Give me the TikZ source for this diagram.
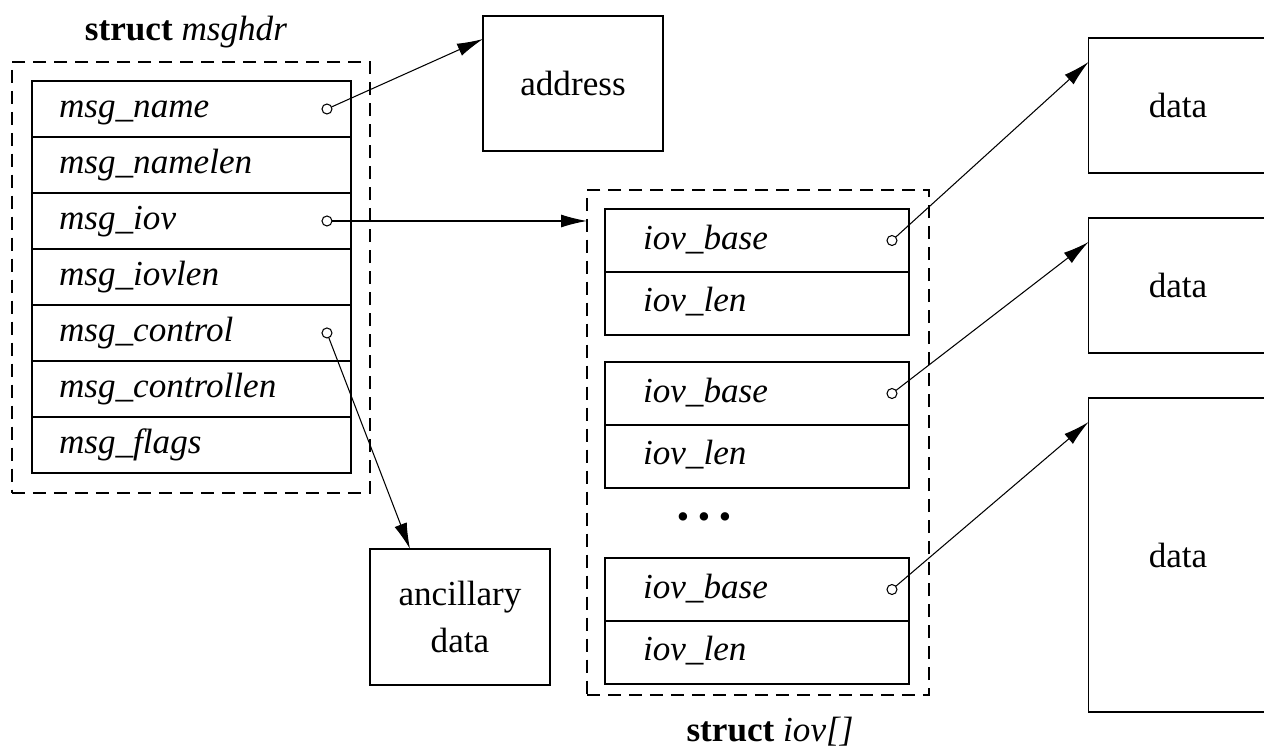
\documentclass[tikz,border=0pt]{standalone}
\usepackage{fontspec}
\setmainfont{Liberation Serif}
\usetikzlibrary{positioning,arrows.meta,calc,fit}

\begin{document}
\begin{tikzpicture}[x=0.02cm,y=-0.02cm,
    every node/.style={font=\fontsize{20}{27}\selectfont,inner sep=0pt,outer sep=0pt},
    hdrfield/.style={draw,line width=0.8pt,minimum width=6.38cm,minimum height=1.12cm,
                     text width=5.3cm,text height=0.48cm,text depth=0.14cm,align=left,
                     font=\fontsize{20}{27}\selectfont\itshape},
    iovfield/.style={draw,line width=0.8pt,minimum width=6.08cm,minimum height=1.26cm,
                     text width=4.56cm,text height=0.48cm,text depth=0.14cm,align=left,
                     font=\fontsize{20}{27}\selectfont\itshape},
    buf/.style={draw,line width=0.8pt,minimum width=3.58cm,align=center},
    group/.style={draw,line width=0.7pt,dash pattern=on 0.26cm off 0.16cm},
    ptr/.style={circle,draw,line width=0.6pt,minimum size=0.2cm},
    link/.style={-{Latex[length=0.52cm,width=0.26cm]},line width=0.6pt}]
    \clip (0,0) rectangle (1264,747);

    \node[group,fit={(12,62) (370,493)}] (hdrgrp) {};
    \node at (186,32) (hdrtitle) {\textbf{struct} \textit{msghdr}};
    \node[hdrfield] (fname) at (191.5,109) {msg\_name};
    \node[hdrfield,below=0pt of fname] (fnamelen) {msg\_namelen};
    \node[hdrfield,below=0pt of fnamelen] (fiov) {msg\_iov};
    \node[hdrfield,below=0pt of fiov] (fiovlen) {msg\_iovlen};
    \node[hdrfield,below=0pt of fiovlen] (fctl) {msg\_control};
    \node[hdrfield,below=0pt of fctl] (fctllen) {msg\_controllen};
    \node[hdrfield,below=0pt of fctllen] (fflags) {msg\_flags};

    \node[ptr] (pname) at ($(fname.east)+(-24,0)$) {};
    \node[ptr] (piov) at ($(fiov.east)+(-24,0)$) {};
    \node[ptr] (pctl) at ($(fctl.east)+(-24,0)$) {};

    \node[buf,minimum width=3.6cm,minimum height=2.7cm] (addr) at (573,83.5) {address};
    \node[buf,minimum width=3.6cm,minimum height=2.72cm] (anc) at (460,617) {ancillary\\data};

    \node[group,fit={(587,190) (929,695)}] (iovgrp) {};
    \node at (770,732) (iovtitle) {\textbf{struct} \textit{iov[]}};
    \node[iovfield] (base1) at (757,240.5) {iov\_base};
    \node[iovfield,below=0pt of base1] (len1) {iov\_len};
    \node[iovfield] (base2) at (757,393.5) {iov\_base};
    \node[iovfield,below=0pt of base2] (len2) {iov\_len};
    \node (dots) at (704,521) {\textbullet\ \textbullet\ \textbullet};
    \node[iovfield] (base3) at (757,589.5) {iov\_base};
    \node[iovfield,below=0pt of base3] (len3) {iov\_len};

    \node[ptr] (pbase1) at ($(base1.east)+(-17,0)$) {};
    \node[ptr] (pbase2) at ($(base2.east)+(-17,0)$) {};
    \node[ptr] (pbase3) at ($(base3.east)+(-17,0)$) {};

    \node[buf,minimum height=2.7cm] (data1) at (1178,105.5) {data};
    \node[buf,minimum height=2.7cm] (data2) at (1178,285.5) {data};
    \node[buf,minimum height=6.28cm] (data3) at (1178,555) {data};

    \draw[link] (pname) -- ($(addr.north west)+(0,23)$);
    \draw[link] (piov) -- (piov -| iovgrp.west);
    \draw[link] (pctl) -- ($(anc.north west)+(40,0)$);
    \draw[link] (pbase1) -- ($(data1.north west)+(0,24)$);
    \draw[link] (pbase2) -- ($(data2.north west)+(0,24)$);
    \draw[link] (pbase3) -- ($(data3.north west)+(0,24)$);
\end{tikzpicture}
\end{document}
